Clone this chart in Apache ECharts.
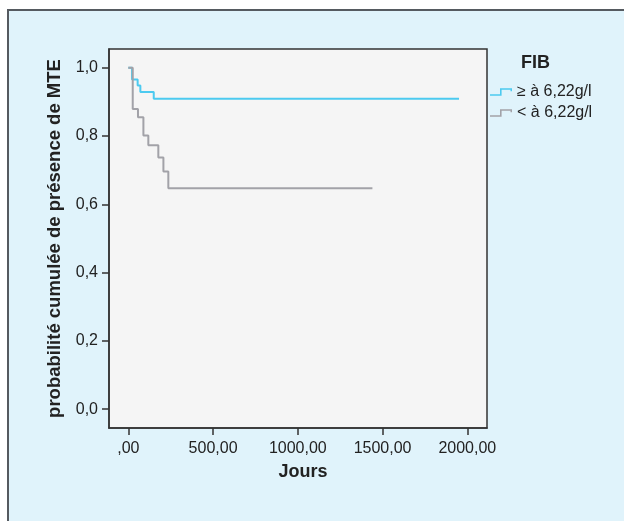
<!DOCTYPE html>
<html>
<head>
<meta charset="utf-8">
<script src="https://cdn.jsdelivr.net/npm/echarts@6/dist/echarts.min.js"></script>
<style>
html,body{margin:0;padding:0;background:#ffffff;}
#c{width:624px;height:521px;}
</style>
</head>
<body>
<div id="c"></div>
<script>
// Data
var seriesNames = ['\u2265 \u00e0 6,22g/l', '< \u00e0 6,22g/l'];
var timesHigh = [0, 22, 55, 71, 150, 1951];
var survHigh  = [1.0, 0.966, 0.948, 0.929, 0.909, 0.909];
var timesLow  = [0, 26, 57, 89, 118, 177, 207, 236, 1440];
var survLow   = [1.0, 0.879, 0.855, 0.802, 0.773, 0.737, 0.696, 0.647, 0.647];
var xTicks = [0, 500, 1000, 1500, 2000];
var yTicks = [0, 0.2, 0.4, 0.6, 0.8, 1.0];
var legendTitle = 'FIB';
var xName = 'Jours';
var yName = 'probabilit\u00e9 cumul\u00e9e de pr\u00e9sence de MTE';

function pairs(xs, ys){ return xs.map(function(x,i){ return [x, ys[i]]; }); }

var FONT = '"Liberation Sans", Arial, Helvetica, sans-serif';
var chart = echarts.init(document.getElementById('c'), null, {renderer:'canvas'});
var stepIcon = 'path://M0,6 L10,6 L10,0 L22,0 L22,3 L20.5,3 L20.5,1.6 L11.6,1.6 L11.6,7.6 L0,7.6 Z';

chart.setOption({
  animation: false,
  backgroundColor: '#ffffff',
  graphic: [
    { type:'rect', z:-10, shape:{x:8, y:10, width:800, height:700},
      style:{fill:'#e0f3fb', stroke:'#555a60', lineWidth:2} },
    { type:'text', left: 521, top: 54, z:10,
      style:{text: legendTitle, font:'bold 18px ' + FONT, fill:'#222222'} }
  ],
  grid: { left:109, top:49, width:378, height:379, show:true,
          backgroundColor:'#f5f5f5', borderColor:'#333333', borderWidth:1.5 },
  legend: {
    orient:'vertical', left: 490, top: 84, padding: 0, itemGap: 5, itemWidth: 22, itemHeight: 8,
    icon: stepIcon,
    textStyle:{fontFamily:FONT, fontSize:16, color:'#222222'},
    data: seriesNames
  },
  xAxis: {
    type:'value', min:-114, max:2116,
    name: xName, nameLocation:'middle', nameGap:35,
    nameTextStyle:{fontFamily:FONT, fontSize:18, fontWeight:'bold', color:'#222222', padding:[0,0,0,10]},
    axisLine:{show:true, onZero:false, lineStyle:{color:'#333333', width:1.5}},
    axisTick:{show:true, length:7, lineStyle:{color:'#333333', width:1.5}, customValues: xTicks},
    axisLabel:{fontFamily:FONT, fontSize:16, color:'#222222', margin:13, customValues: xTicks,
      formatter:function(v){ return v===0 ? ',00' : v.toFixed(2).replace('.',','); }},
    splitLine:{show:false}
  },
  yAxis: {
    type:'value', min:-0.055, max:1.055,
    name: yName, nameLocation:'middle', nameGap:42,
    nameTextStyle:{fontFamily:FONT, fontSize:18.5, fontWeight:'bold', color:'#222222'},
    axisLine:{show:true, onZero:false, lineStyle:{color:'#333333', width:1.5}},
    axisTick:{show:true, length:7, lineStyle:{color:'#333333', width:1.5}, customValues: yTicks},
    axisLabel:{fontFamily:FONT, fontSize:16, color:'#222222', margin:11, customValues: yTicks,
      formatter:function(v){ return v.toFixed(1).replace('.',','); }},
    splitLine:{show:false}
  },
  series: [
    { name: seriesNames[0], type:'line', step:'end', showSymbol:false, symbol:'none',
      data: pairs(timesHigh, survHigh), color:'#4ccaf0',
      lineStyle:{color:'#4ccaf0', width:2} },
    { name: seriesNames[1], type:'line', step:'end', showSymbol:false, symbol:'none',
      data: pairs(timesLow, survLow), color:'#a2a2a8',
      lineStyle:{color:'#a2a2a8', width:2} }
  ]
});
</script>
</body>
</html>
